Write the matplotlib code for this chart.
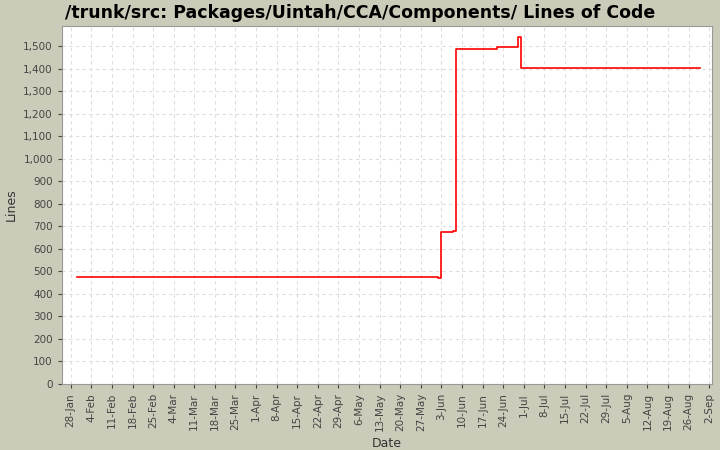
import matplotlib
matplotlib.use("Agg")
import matplotlib.pyplot as plt
import matplotlib.dates as mdates
import pandas as pd
from matplotlib.ticker import FuncFormatter, MultipleLocator

dates = ["2013-01-30", "2013-06-02", "2013-06-03", "2013-06-07", "2013-06-08",
         "2013-06-22", "2013-06-29", "2013-06-30", "2013-08-30"]
lines = [476, 470, 675, 680, 1490, 1495, 1540, 1405, 1405]

x = pd.to_datetime(dates)

fig = plt.figure(figsize=(7.2, 4.5), dpi=100, facecolor="#cccbb9")
ax = fig.add_axes([0.086, 0.147, 0.903, 0.796])
ax.set_facecolor("white")
ax.plot(x, lines, drawstyle="steps-post", color="#ff0000", linewidth=1.2)

ax.set_xlim(pd.Timestamp("2013-01-25"), pd.Timestamp("2013-09-03"))
ax.set_ylim(0, 1592)
ax.yaxis.set_major_locator(MultipleLocator(100))
ax.yaxis.set_major_formatter(FuncFormatter(lambda v, p: f"{int(v):,}"))
ax.xaxis.set_major_locator(mdates.WeekdayLocator(byweekday=mdates.MO, interval=1))
ax.xaxis.set_major_formatter(mdates.DateFormatter("%-d-%b"))
plt.setp(ax.get_xticklabels(), rotation=90)
ax.tick_params(labelsize=7.5, colors="#444444", length=3)
ax.grid(True, color="#dddddd", linestyle=(0, (3, 3)), linewidth=0.8)
for s in ax.spines.values():
    s.set_color("#999999")

ax.set_xlabel("Date", fontsize=9, color="#333333")
ax.set_ylabel("Lines", fontsize=9, color="#333333")
fig.suptitle("/trunk/src: Packages/Uintah/CCA/Components/ Lines of Code",
             fontsize=12.5, fontweight="bold", y=0.99)

fig.savefig("out.png", dpi=100, facecolor=fig.get_facecolor())
